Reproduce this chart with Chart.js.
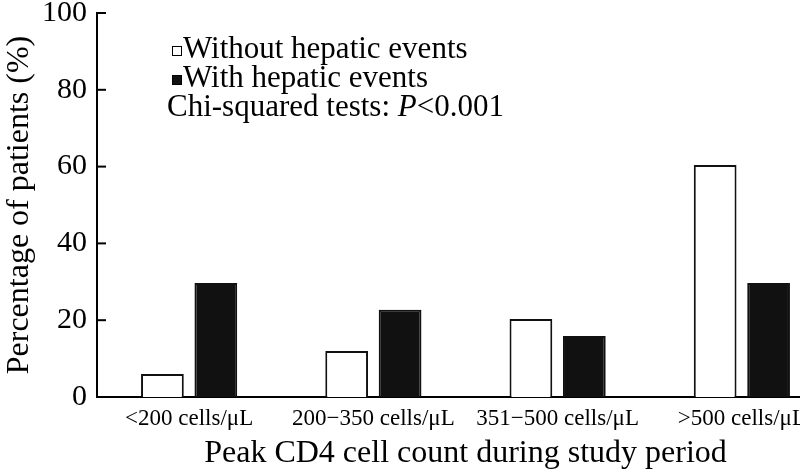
<!DOCTYPE html>
<html>
<head>
<meta charset="utf-8">
<script src="https://cdn.jsdelivr.net/npm/chart.js@4/dist/chart.umd.min.js"></script>
<style>
  html, body { margin: 0; padding: 0; background: #fff; overflow: hidden; }
  #wrap { width: 834px; height: 476px; margin-top: -3px; }
</style>
</head>
<body>
<div id="wrap"><canvas id="cd4-chart"></canvas></div>
<script>
const categories = ['<200 cells/\u03bcL', '200\u2212350 cells/\u03bcL', '351\u2212500 cells/\u03bcL', '>500 cells/\u03bcL']
const withoutEvents = [6, 12, 20.3, 60.4]
const withEvents = [29.7, 22.7, 15.9, 29.7]
const yTicks = [0, 20, 40, 60, 80, 100]

const serif = 'Liberation Serif, Times New Roman, serif'

// ticks on the y axis point into the plot, and the legend + test note sit top left
const extras = {
  id: 'extras',
  afterDraw(chart) {
    const ctx = chart.ctx
    const y = chart.scales.y
    const left = chart.chartArea.left
    ctx.save()
    ctx.strokeStyle = '#000'
    ctx.lineWidth = 2
    yTicks.forEach(v => {
      const py = y.getPixelForValue(v)
      ctx.beginPath()
      ctx.moveTo(left, py)
      ctx.lineTo(left + 9, py)
      ctx.stroke()
    })

    ctx.font = '31px ' + serif
    ctx.fillStyle = '#000'
    ctx.textBaseline = 'middle'
    const rows = [53, 82]
    chart.data.datasets.forEach((ds, i) => {
      ctx.fillStyle = ds.backgroundColor
      ctx.fillRect(172, rows[i] - 4, 10, 10)
      ctx.lineWidth = 1
      ctx.strokeStyle = '#000'
      ctx.strokeRect(172.5, rows[i] - 3.5, 9, 9)
      ctx.fillStyle = '#000'
      ctx.fillText(ds.label, 183, rows[i])
    })
    const t = 'Chi-squared tests: '
    ctx.fillText(t, 167, 111)
    let x = 167 + ctx.measureText(t).width
    ctx.font = 'italic 31px ' + serif
    ctx.fillText('P', x, 111)
    x += ctx.measureText('P').width
    ctx.font = '31px ' + serif
    ctx.fillText('<0.001', x, 111)
    ctx.restore()
  }
}

const cd4Chart = () => {
  const options = {
    type: 'bar',
    data: {
      labels: categories,
      datasets: [{
        label: 'Without hepatic events',
        data: withoutEvents,
        backgroundColor: '#ffffff',
        borderColor: '#111',
        borderWidth: 2,
        barPercentage: 0.8,
        categoryPercentage: 0.58
      }, {
        label: 'With hepatic events',
        data: withEvents,
        backgroundColor: '#111111',
        borderColor: '#111',
        borderWidth: 2,
        barPercentage: 0.8,
        categoryPercentage: 0.58
      }]
    },
    options: {
      responsive: true,
      maintainAspectRatio: false,
      animation: false,
      layout: { padding: { top: 10, right: 0, left: 0, bottom: 0 } },
      plugins: {
        legend: { display: false },
        tooltip: { enabled: false }
      },
      scales: {
        x: {
          grid: { display: false, drawTicks: false },
          border: { display: true, color: '#000', width: 2 },
          ticks: {
            color: '#000',
            font: { family: serif, size: 23 },
            padding: 8,
            maxRotation: 0,
            autoSkip: false
          },
          title: {
            display: true,
            text: 'Peak CD4 cell count during study period',
            color: '#000',
            font: { family: serif, size: 32 },
            padding: { top: 3, bottom: 0 }
          },
          afterFit(s) { s.height = 76 }
        },
        y: {
          min: 0,
          max: 100,
          grid: { display: false, drawTicks: false },
          border: { display: true, color: '#000', width: 2 },
          ticks: {
            stepSize: 20,
            color: '#000',
            font: { family: serif, size: 30, lineHeight: 0.4 },
            padding: 10
          },
          title: {
            display: true,
            text: 'Percentage of patients (%)',
            color: '#000',
            font: { family: serif, size: 32 },
            padding: { top: 0, bottom: 0 }
          },
          afterFit(s) { s.width = 97 }
        }
      }
    },
    plugins: [extras]
  }
  const canvas = document.getElementById('cd4-chart').getContext('2d')
  new Chart(canvas, options)
}

window.onload = () => {
  cd4Chart()
}
</script>
</body>
</html>
